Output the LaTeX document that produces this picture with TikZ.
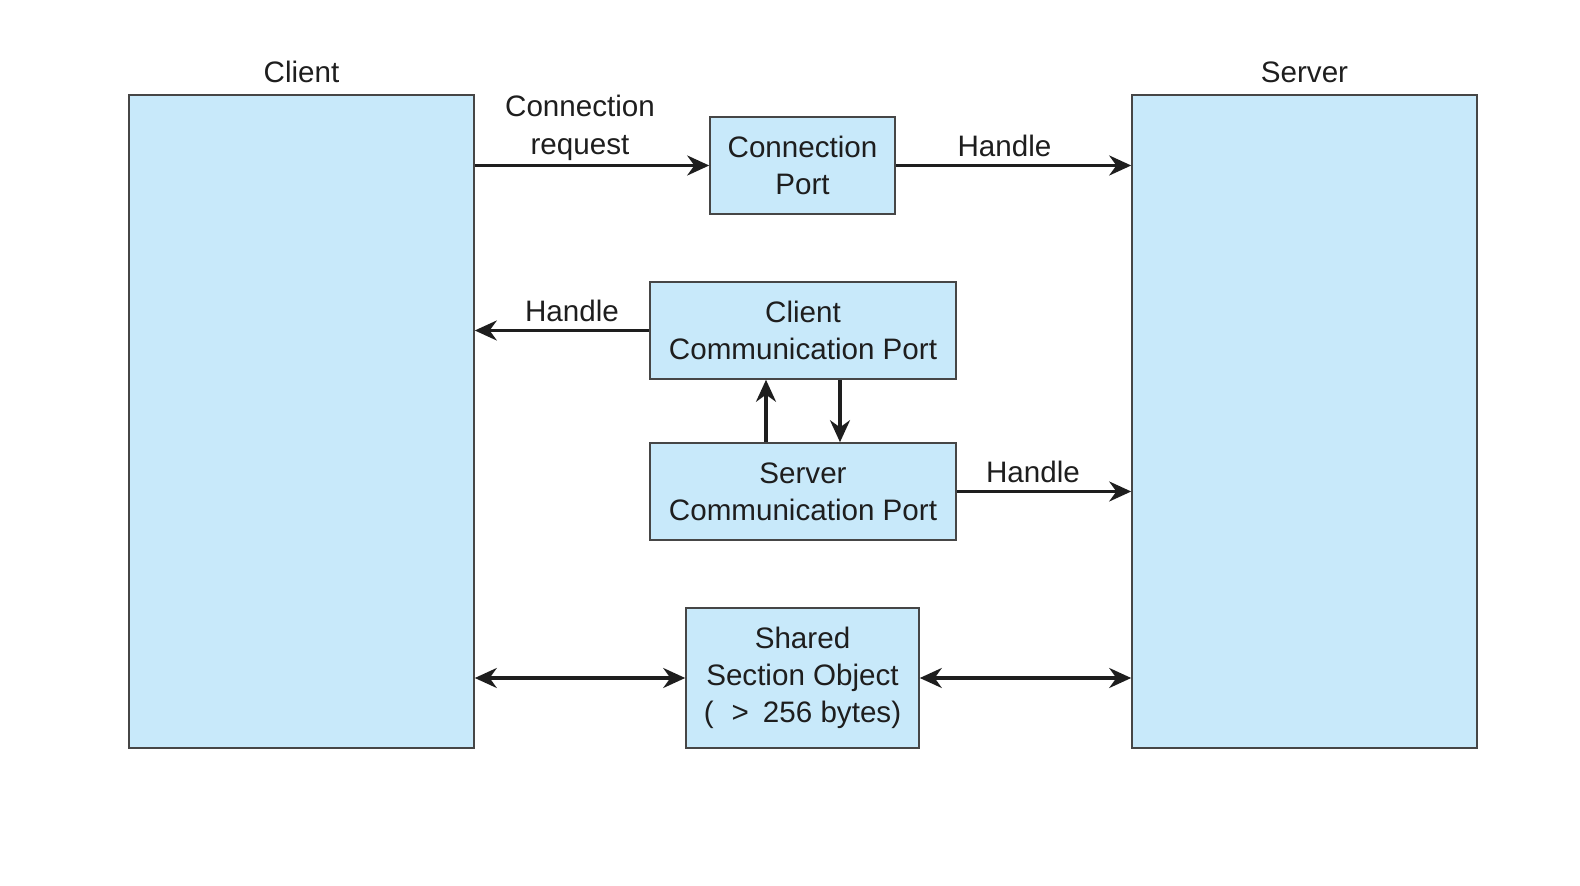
\documentclass[tikz,border=0pt]{standalone}
\usepackage{fontspec}
\setmainfont{Liberation Sans}
\usetikzlibrary{arrows.meta, positioning}
\definecolor{portblue}{RGB}{200, 233, 250}
\definecolor{edgegray}{RGB}{70, 70, 70}
\definecolor{inkgray}{RGB}{30, 30, 30}
\tikzstyle{process} = [rectangle, minimum width=172.5pt, minimum height=326.5pt, draw=edgegray, line width=0.8pt, fill=portblue, inner sep=0pt]
\tikzstyle{port} = [rectangle, text centered, align=center, draw=edgegray, line width=0.8pt, fill=portblue, inner sep=0pt, minimum height=48.5pt]
\tikzstyle{arrow} = [draw=inkgray, line width=1.6pt, -{Stealth[length=11pt, width=10pt]}]
\tikzstyle{biarrow} = [draw=inkgray, line width=1.6pt, {Stealth[length=11pt, width=10pt]}-{Stealth[length=11pt, width=10pt]}]
\tikzstyle{tag} = [midway, above, align=center]

\begin{document}
\begin{tikzpicture}[x=0.5pt, y=-0.5pt, font=\fontsize{14.8}{18.6}\selectfont, text=inkgray]
\useasboundingbox (0,0) rectangle (1580,886);

% Client and server processes
\node (client) [process, label={[yshift=2pt]above:Client}] at (301.5,421.5) {};
\node (server) [process, label={[yshift=2pt]above:Server}] at (1304.5,421.5) {};

% Ports and shared section
\node (connport) [port, minimum width=92.5pt] at (802.5,165.5) {Connection\\Port};
\node (clientport) [port, minimum width=153pt] at (803,330.5) {Client\\Communication Port};
\node (serverport) [port, minimum width=153pt] at (803,491.5) {Server\\Communication Port};
\node (shared) [port, minimum width=116.5pt, minimum height=70pt] at (802.5,678) {Shared\\Section Object\\(\hspace{9pt}>\hspace{7pt}256 bytes)};

% Connection setup
\draw [arrow] (client.east |- connport.west) -- node[tag, xshift=-6pt, yshift=-1.5pt] {Connection\\request} (connport.west);
\draw [arrow] (connport.east) -- node[tag, xshift=-4.5pt] {Handle} (server.west |- connport.east);
\draw [arrow] (clientport.west) -- node[tag, xshift=5pt] {Handle} (client.east |- clientport.west);
\draw [arrow] (serverport.east) -- node[tag, xshift=-5.5pt] {Handle} (server.west |- serverport.east);

% Between the communication ports
\draw [arrow] ([xshift=-18.5pt]serverport.north) -- ([xshift=-18.5pt]clientport.south);
\draw [arrow] ([xshift=18.5pt]clientport.south) -- ([xshift=18.5pt]serverport.north);

% Shared section object
\draw [biarrow] (client.east |- shared.west) -- (shared.west);
\draw [biarrow] (shared.east) -- (server.west |- shared.east);

\end{tikzpicture}
\end{document}
